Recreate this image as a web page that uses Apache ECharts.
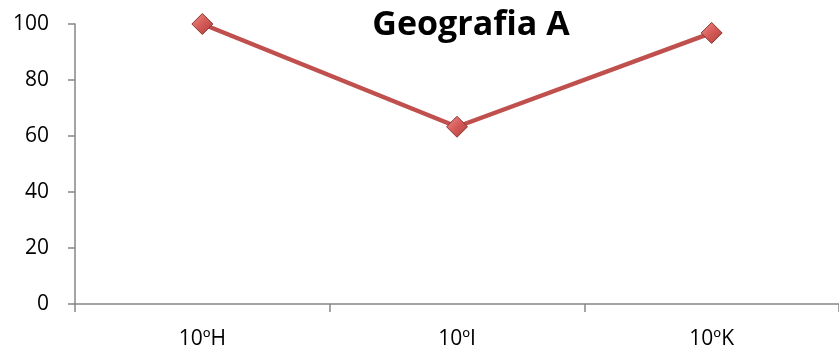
<!DOCTYPE html>
<html><head><meta charset="utf-8">
<script src="https://cdn.jsdelivr.net/npm/echarts@6/dist/echarts.min.js"></script>
<style>html,body{margin:0;padding:0;background:#fff}#c{width:839px;height:350px}</style>
</head><body><div id="c"></div>
<script>
const categories = ['10ºH', '10ºI', '10ºK'];
const values = [100, 63.3, 96.8];
const yTicks = [0, 20, 40, 60, 80, 100];
const titleText = 'Geografia A';

const chart = echarts.init(document.getElementById('c'), null, {renderer: 'canvas'});
chart.setOption({
  animation: false,
  title: {
    text: titleText, left: 466, top: 3, textAlign: 'center',
    textStyle: {fontFamily: 'Open Sans', fontWeight: 'bold', fontSize: 34, color: '#000'}
  },
  grid: {left: 75, right: -1, top: 24, bottom: 45, containLabel: false},
  xAxis: {
    type: 'category', data: categories, boundaryGap: true,
    axisLine: {lineStyle: {color: '#868686', width: 1.5}},
    axisTick: {show: true, inside: false, length: 8, lineStyle: {color: '#868686', width: 1.5}},
    axisLabel: {fontFamily: 'Open Sans', fontSize: 21, color: '#000', margin: 25}
  },
  yAxis: {
    type: 'value', min: yTicks[0], max: yTicks[yTicks.length - 1], interval: 20,
    axisLine: {show: true, lineStyle: {color: '#868686', width: 1.5}},
    axisTick: {show: true, length: 7, lineStyle: {color: '#868686', width: 1.5}},
    splitLine: {show: false},
    axisLabel: {fontFamily: 'Open Sans', fontSize: 21, color: '#000', margin: 26}
  },
  series: [{
    type: 'line', data: values,
    lineStyle: {color: '#c0504d', width: 4.5},
    symbol: 'diamond', symbolSize: 21,
    itemStyle: {
      color: new echarts.graphic.LinearGradient(0, 0, 1, 1, [
        {offset: 0, color: '#f3908d'}, {offset: 0.5, color: '#d45a56'}, {offset: 1, color: '#a8403d'}
      ]),
      borderColor: '#8c3533', borderWidth: 1
    }
  }]
});
</script></body></html>
